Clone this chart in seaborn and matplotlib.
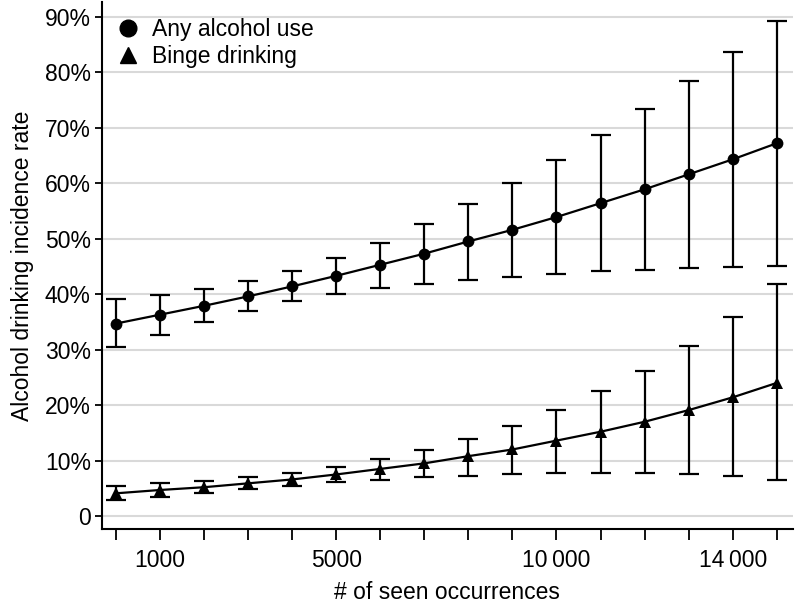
import numpy as np
import pandas as pd
import matplotlib
matplotlib.use("Agg")
import matplotlib.pyplot as plt
import seaborn as sns
from matplotlib.lines import Line2D

# === Data ===
occurrences = [0, 1000, 2000, 3000, 4000, 5000, 6000, 7000, 8000, 9000,
               10000, 11000, 12000, 13000, 14000, 15000]

any_rate = [34.7, 36.3, 37.9, 39.6, 41.4, 43.3, 45.3, 47.3, 49.5, 51.6,
            53.9, 56.4, 58.9, 61.6, 64.3, 67.2]
any_low = [30.4, 32.6, 34.9, 37.0, 38.7, 40.0, 41.2, 41.9, 42.6, 43.1,
           43.6, 44.1, 44.4, 44.7, 44.9, 45.0]
any_high = [39.1, 39.9, 41.0, 42.3, 44.1, 46.5, 49.2, 52.6, 56.3, 60.1,
            64.2, 68.7, 73.4, 78.5, 83.7, 89.3]

binge_rate = [4.1, 4.7, 5.2, 5.9, 6.6, 7.5, 8.5, 9.5, 10.8, 12.0,
              13.6, 15.2, 17.0, 19.1, 21.4, 24.0]
binge_low = [2.9, 3.5, 4.1, 4.9, 5.5, 6.1, 6.5, 7.0, 7.3, 7.6,
             7.7, 7.8, 7.7, 7.6, 7.2, 6.5]
binge_high = [5.4, 5.9, 6.4, 7.1, 7.8, 8.9, 10.2, 11.9, 13.9, 16.3,
              19.2, 22.5, 26.2, 30.6, 35.8, 41.8]

labels = ["Any alcohol use", "Binge drinking"]
x_ticklabels = {1000: "1000", 5000: "5000", 10000: "10\u2009000", 14000: "14\u2009000"}
y_ticks = [0, 10, 20, 30, 40, 50, 60, 70, 80, 90]
y_ticklabels = ["0"] + [f"{v}%" for v in y_ticks[1:]]

df = pd.DataFrame({
    "occ": occurrences * 2,
    "rate": any_rate + binge_rate,
    "low": any_low + binge_low,
    "high": any_high + binge_high,
    "measure": [labels[0]] * 16 + [labels[1]] * 16,
})

# === Style ===
sns.set_style("white")
plt.rcParams["font.family"] = ["Liberation Sans", "DejaVu Sans"]
plt.rcParams["text.color"] = "black"
plt.rcParams["axes.labelcolor"] = "black"
fs = 16.5

fig = plt.figure(figsize=(7.96, 6.04), dpi=100)
ax = fig.add_axes([0.128, 0.124, 0.868, 0.873])

# gridlines
for v in y_ticks:
    ax.axhline(v, color="#d9d9d9", lw=1.5, zorder=0)

# error bars
for lab in labels:
    sub = df[df["measure"] == lab]
    ax.errorbar(sub["occ"], sub["rate"],
                yerr=[sub["rate"] - sub["low"], sub["high"] - sub["rate"]],
                fmt="none", ecolor="black", elinewidth=1.6, capsize=7.5,
                capthick=1.6, zorder=2)

sns.lineplot(data=df, x="occ", y="rate", style="measure",
             markers={labels[0]: "o", labels[1]: "^"}, dashes=False,
             color="black", markersize=8.5, markeredgewidth=0, lw=1.6,
             ax=ax, legend=False, zorder=3)

# axes look
ax.set_xlim(-318, 15365)
ax.set_ylim(-2.35, 92.7)
ax.set_xticks(occurrences)
ax.set_xticklabels([x_ticklabels.get(v, "") for v in occurrences])
ax.set_yticks(y_ticks)
ax.set_yticklabels(y_ticklabels)
ax.tick_params(axis="x", direction="out", length=8, width=1.3, pad=6,
               bottom=True, colors="black", labelsize=fs)
ax.tick_params(axis="y", direction="out", length=5, width=1.3, pad=3,
               left=True, colors="black", labelsize=fs)
for s in ["top", "right"]:
    ax.spines[s].set_visible(False)
for s in ["left", "bottom"]:
    ax.spines[s].set_color("black")
    ax.spines[s].set_linewidth(1.5)

ax.set_xlabel("# of seen occurrences", fontsize=fs, labelpad=7)
ax.set_ylabel("Alcohol drinking incidence rate", fontsize=fs, labelpad=8)

handles = [Line2D([], [], color="black", marker="o", lw=0, markersize=12),
           Line2D([], [], color="black", marker="^", lw=0, markersize=12)]
ax.legend(handles, labels, loc="upper left", frameon=False, fontsize=fs,
          handlelength=1.47, handletextpad=0.31, borderaxespad=0.0,
          labelspacing=0.2, bbox_to_anchor=(0.0, 0.987))

fig.savefig("out.png", dpi=100)
